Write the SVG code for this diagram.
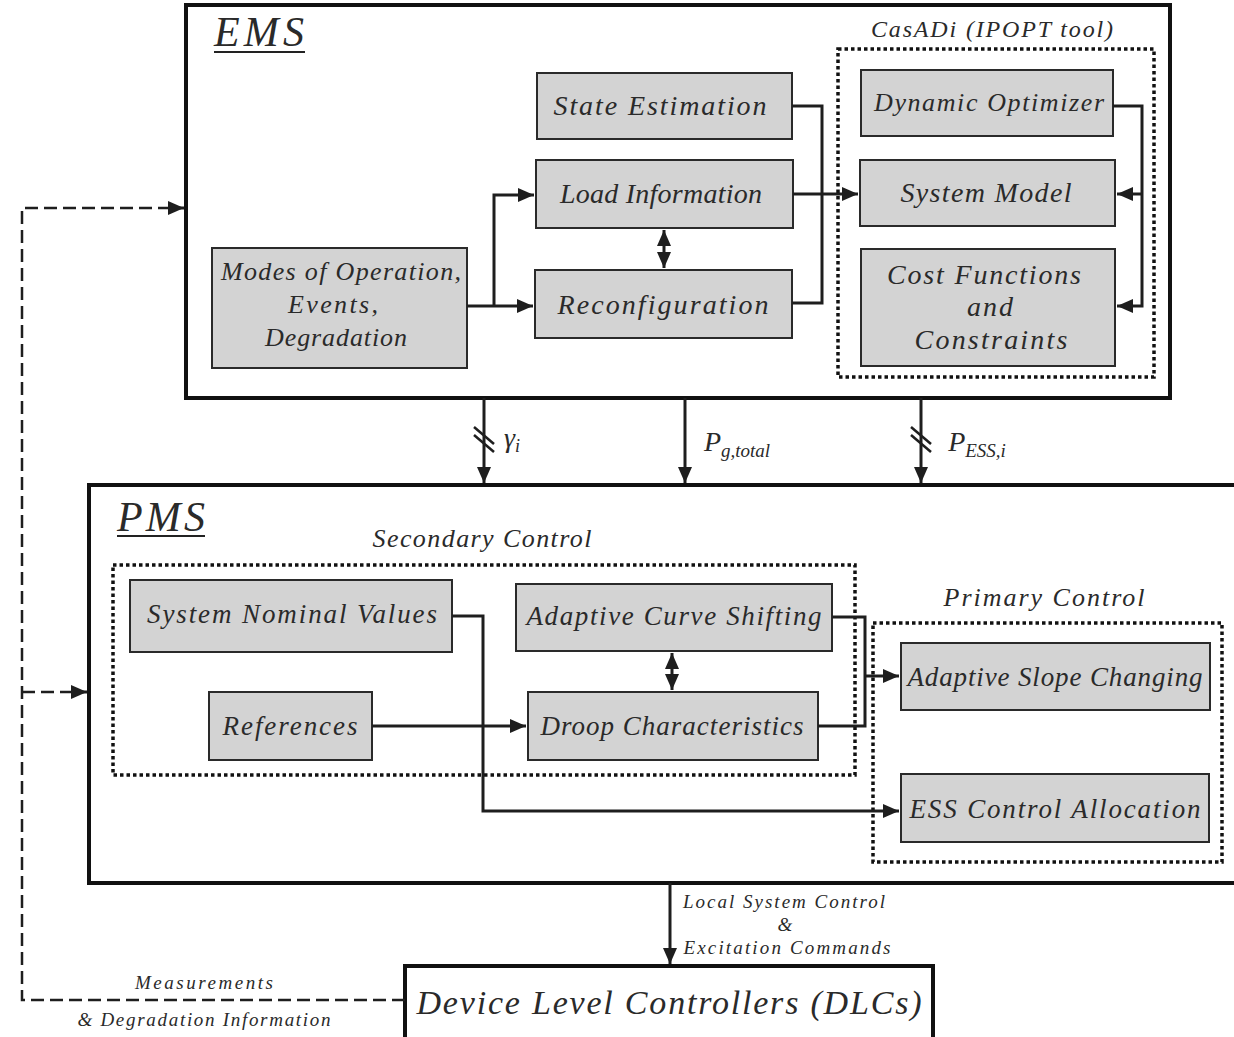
<svg xmlns="http://www.w3.org/2000/svg" width="1234" height="1037" viewBox="0 0 1234 1037">
<defs>
<marker id="ah" viewBox="0 0 16 14" refX="16" refY="7" markerWidth="16" markerHeight="14" markerUnits="userSpaceOnUse" orient="auto-start-reverse">
<path d="M0,0 L16,7 L0,14 Z" fill="#1e1e1e"/>
</marker>
<style>
.frame{fill:#fff;stroke:#111;stroke-width:4}
.dot{fill:none;stroke:#111;stroke-width:3.5;stroke-dasharray:3.5 3}
.box{fill:#d3d3d3;stroke:#2a2a2a;stroke-width:2}
.t{font-family:"Liberation Serif","DejaVu Serif",serif;font-style:italic;fill:#2a2a2a;text-anchor:middle}
.w{fill:none;stroke:#1e1e1e;stroke-width:3}
.dash{fill:none;stroke:#1e1e1e;stroke-width:2.5;stroke-dasharray:13 6}
</style>
</defs>
<rect width="1234" height="1037" fill="#fff"/>

<g id="ems">
<rect class="frame" x="186" y="5" width="984" height="393"/>
<text class="t" x="259" y="46" font-size="42" textLength="90">EMS</text>
<line x1="214" y1="52" x2="305" y2="52" stroke="#222" stroke-width="2"/>
</g>
<g id="pms">
<rect class="frame" x="89" y="485" width="1160" height="398"/>
<text class="t" x="161" y="531" font-size="42" textLength="88">PMS</text>
<line x1="117" y1="536" x2="205" y2="536" stroke="#222" stroke-width="2"/>
</g>

<g id="casadi">
<rect class="dot" x="838" y="49" width="316" height="328"/>
<text class="t" x="992" y="37" font-size="24" textLength="242">CasADi (IPOPT tool)</text>
</g>
<g id="secondary">
<rect class="dot" x="113" y="565" width="742" height="210"/>
<text class="t" x="482" y="547" font-size="26" textLength="219">Secondary Control</text>
</g>
<g id="primary">
<rect class="dot" x="873" y="623" width="349" height="239"/>
<text class="t" x="1044" y="606" font-size="26" textLength="201">Primary Control</text>
</g>

<g id="state-estimation">
<rect class="box" x="537" y="73" width="255" height="66"/>
<text class="t" x="660" y="115" font-size="28" textLength="213">State Estimation</text>
</g>
<g id="load-information">
<rect class="box" x="536" y="160" width="257" height="68"/>
<text class="t" x="661" y="203" font-size="28" textLength="202">Load Information</text>
</g>
<g id="reconfiguration">
<rect class="box" x="535" y="270" width="257" height="68"/>
<text class="t" x="663" y="314" font-size="28" textLength="211">Reconfiguration</text>
</g>
<g id="modes">
<rect class="box" x="212" y="248" width="255" height="120"/>
<text class="t" x="341" y="280" font-size="26" textLength="240">Modes of Operation,</text>
<text class="t" x="333" y="313" font-size="26" textLength="90">Events,</text>
<text class="t" x="336" y="346" font-size="26" textLength="142">Degradation</text>
</g>
<g id="dynamic-optimizer">
<rect class="box" x="861" y="70" width="252" height="66"/>
<text class="t" x="989" y="111" font-size="26" textLength="230">Dynamic Optimizer</text>
</g>
<g id="system-model">
<rect class="box" x="860" y="160" width="255" height="66"/>
<text class="t" x="986" y="202" font-size="28" textLength="171">System Model</text>
</g>
<g id="cost-functions">
<rect class="box" x="861" y="249" width="254" height="117"/>
<text class="t" x="984" y="284" font-size="28" textLength="194">Cost Functions</text>
<text class="t" x="990" y="316" font-size="28" textLength="46">and</text>
<text class="t" x="991" y="349" font-size="28" textLength="153">Constraints</text>
</g>

<g id="system-nominal-values">
<rect class="box" x="130" y="580" width="322" height="72"/>
<text class="t" x="292" y="623" font-size="27" textLength="290">System Nominal Values</text>
</g>
<g id="adaptive-curve-shifting">
<rect class="box" x="516" y="584" width="316" height="67"/>
<text class="t" x="674" y="625" font-size="27" textLength="295">Adaptive Curve Shifting</text>
</g>
<g id="references">
<rect class="box" x="209" y="692" width="163" height="68"/>
<text class="t" x="290" y="735" font-size="27" textLength="135">References</text>
</g>
<g id="droop-characteristics">
<rect class="box" x="528" y="692" width="290" height="68"/>
<text class="t" x="672" y="735" font-size="27" textLength="263">Droop Characteristics</text>
</g>
<g id="adaptive-slope-changing">
<rect class="box" x="901" y="643" width="309" height="67"/>
<text class="t" x="1055" y="686" font-size="27" textLength="295">Adaptive Slope Changing</text>
</g>
<g id="ess-control-allocation">
<rect class="box" x="901" y="774" width="308" height="68"/>
<text class="t" x="1055" y="818" font-size="27" textLength="291">ESS Control Allocation</text>
</g>

<g id="dlc">
<rect x="405" y="966" width="528" height="80" fill="#fff" stroke="#111" stroke-width="4"/>
<text class="t" x="669" y="1014" font-size="34" textLength="505">Device Level Controllers (DLCs)</text>
</g>

<g id="connectors">
<polyline class="w" points="467,306 533,306" marker-end="url(#ah)"/>
<polyline class="w" points="494,306 494,195 534,195" marker-end="url(#ah)"/>
<line class="w" x1="664" y1="230" x2="664" y2="268" marker-start="url(#ah)" marker-end="url(#ah)"/>
<polyline class="w" points="792,106 822,106 822,303 792,303"/>
<polyline class="w" points="793,194 858,194" marker-end="url(#ah)"/>
<polyline class="w" points="1113,106 1142,106 1142,306 1117,306" marker-end="url(#ah)"/>
<polyline class="w" points="1142,194 1117,194" marker-end="url(#ah)"/>
<line class="w" x1="484" y1="398" x2="484" y2="483" marker-end="url(#ah)"/>
<line class="w" x1="685" y1="398" x2="685" y2="483" marker-end="url(#ah)"/>
<line class="w" x1="921" y1="398" x2="921" y2="483" marker-end="url(#ah)"/>
<g stroke="#1e1e1e" stroke-width="2.5">
<line x1="474" y1="427" x2="494" y2="444"/>
<line x1="474" y1="435" x2="494" y2="452"/>
<line x1="911" y1="427" x2="931" y2="444"/>
<line x1="911" y1="435" x2="931" y2="452"/>
</g>
<polyline class="w" points="372,726 526,726" marker-end="url(#ah)"/>
<line class="w" x1="672" y1="653" x2="672" y2="690" marker-start="url(#ah)" marker-end="url(#ah)"/>
<polyline class="w" points="832,617 865,617 865,726 818,726"/>
<polyline class="w" points="865,676 899,676" marker-end="url(#ah)"/>
<polyline class="w" points="452,616 483,616 483,811 899,811" marker-end="url(#ah)"/>
<line class="w" x1="670" y1="883" x2="670" y2="964" marker-end="url(#ah)"/>
<polyline class="dash" points="405,1000 22,1000 22,208 168,208"/>
<polyline class="w" points="168,208 184,208" marker-end="url(#ah)"/>
<polyline class="dash" points="22,692 71,692"/>
<polyline class="w" points="71,692 87,692" marker-end="url(#ah)"/>
</g>

<g id="labels">
<text class="t" x="512" y="447" font-size="28">γ<tspan font-size="18" dy="5">i</tspan></text>
<text class="t" x="737" y="451" font-size="28">P<tspan font-size="19" dy="6">g,total</tspan></text>
<text class="t" x="977" y="451" font-size="28">P<tspan font-size="19" dy="6">ESS,i</tspan></text>
<text class="t" x="784" y="908" font-size="19" textLength="202">Local System Control</text>
<text class="t" x="785" y="931" font-size="19">&amp;</text>
<text class="t" x="787" y="954" font-size="19" textLength="207">Excitation Commands</text>
<text class="t" x="204" y="989" font-size="19" textLength="138">Measurements</text>
<text class="t" x="204" y="1026" font-size="19" textLength="253">&amp; Degradation Information</text>
</g>
</svg>
